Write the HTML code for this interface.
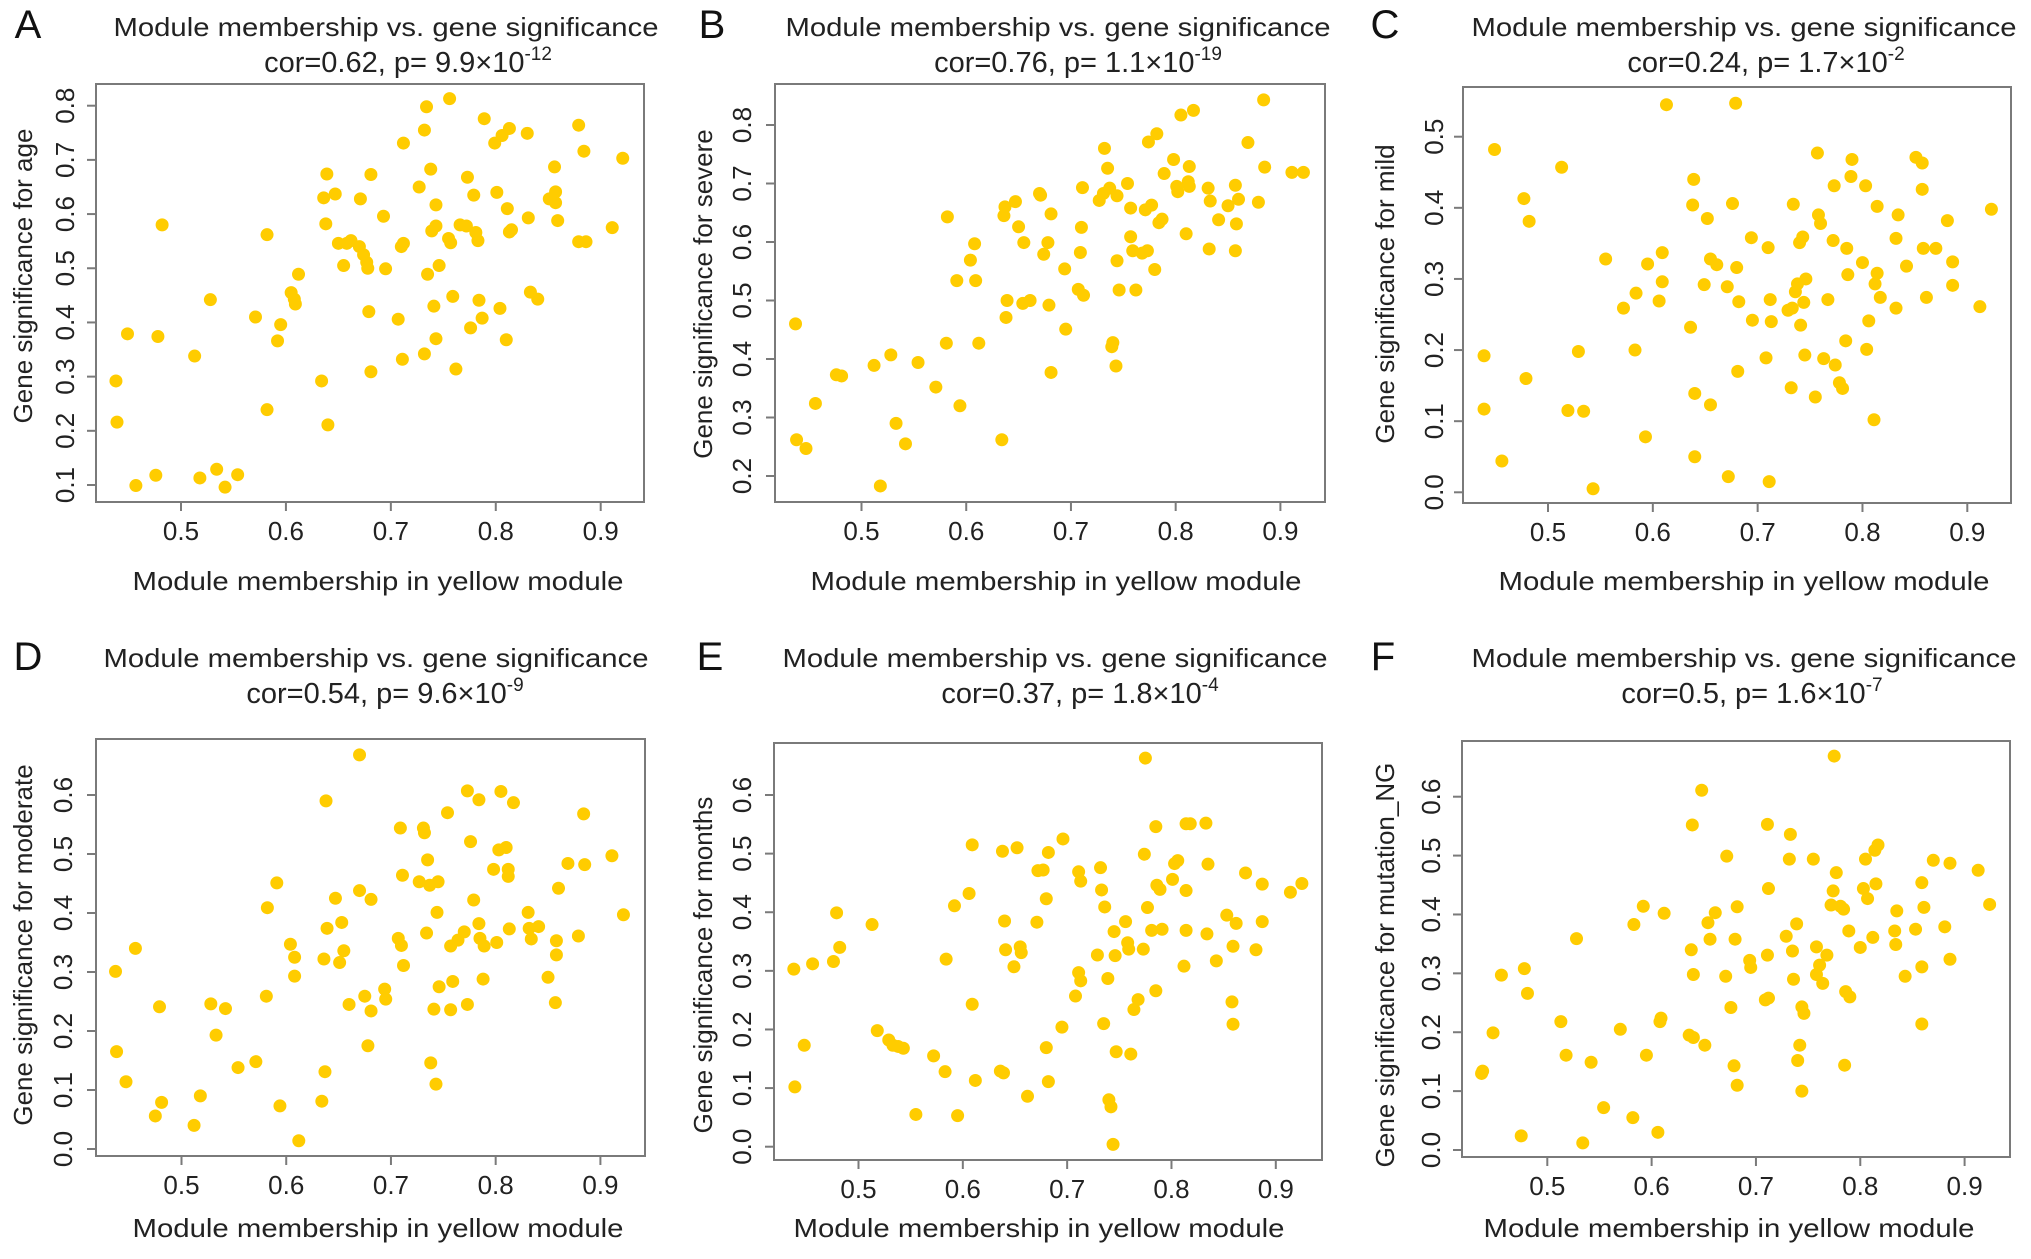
<!DOCTYPE html>
<html><head><meta charset="utf-8"><style>
body{margin:0;background:#fff}
svg{display:block;font-family:"Liberation Sans",Arial,sans-serif}
</style></head><body>
<svg id="fig" width="2031" height="1259" viewBox="0 0 2031 1259" xmlns="http://www.w3.org/2000/svg"></svg>
<script>
const xTicks=[0.5,0.6,0.7,0.8,0.9];
const ticksA=[0.1,0.2,0.3,0.4,0.5,0.6,0.7,0.8];
const ticksB=[0.2,0.3,0.4,0.5,0.6,0.7,0.8];
const ticksC=[0.0,0.1,0.2,0.3,0.4,0.5];
const ticksDEF=[0.0,0.1,0.2,0.3,0.4,0.5,0.6];
const labelsP=["A","B","C","D","E","F"];
const traits=["age","severe","mild","moderate","months","mutation_NG"];
const cors=["0.62","0.76","0.24","0.54","0.37","0.5"];
const pMant=["9.9","1.1","1.7","9.6","1.8","1.6"];
const pExp=["-12","-19","-2","-9","-4","-7"];
const xA=[0.438,0.439,0.449,0.457,0.476,0.478,0.482,0.513,0.518,0.528,0.534,0.542,0.554,0.571,0.582,0.582,0.592,0.595,0.605,0.608,0.609,0.612,0.634,0.636,0.638,0.639,0.640,0.647,0.650,0.655,0.658,0.662,0.670,0.671,0.674,0.677,0.678,0.679,0.681,0.681,0.693,0.695,0.707,0.710,0.712,0.711,0.712,0.727,0.732,0.732,0.734,0.735,0.738,0.739,0.741,0.743,0.743,0.743,0.746,0.755,0.757,0.756,0.759,0.762,0.766,0.772,0.773,0.776,0.779,0.781,0.783,0.784,0.787,0.789,0.799,0.801,0.804,0.806,0.810,0.811,0.813,0.815,0.813,0.830,0.831,0.833,0.840,0.851,0.856,0.857,0.857,0.859,0.879,0.879,0.884,0.886,0.911,0.921];
const yA=[0.292,0.216,0.379,0.099,0.118,0.374,0.580,0.338,0.113,0.442,0.129,0.096,0.119,0.410,0.562,0.239,0.366,0.396,0.455,0.443,0.434,0.489,0.292,0.630,0.582,0.674,0.211,0.637,0.546,0.505,0.546,0.551,0.540,0.628,0.525,0.511,0.500,0.420,0.673,0.309,0.596,0.499,0.406,0.540,0.731,0.332,0.546,0.650,0.342,0.755,0.798,0.489,0.683,0.569,0.430,0.578,0.617,0.370,0.505,0.555,0.547,0.813,0.448,0.314,0.580,0.578,0.668,0.390,0.635,0.566,0.551,0.441,0.408,0.776,0.731,0.640,0.426,0.745,0.368,0.610,0.758,0.571,0.567,0.749,0.593,0.456,0.443,0.628,0.687,0.641,0.621,0.588,0.764,0.549,0.716,0.549,0.575,0.703];
const xB=[0.437,0.438,0.447,0.456,0.476,0.481,0.512,0.518,0.528,0.533,0.542,0.554,0.571,0.581,0.582,0.591,0.594,0.604,0.608,0.609,0.612,0.634,0.636,0.637,0.638,0.639,0.647,0.650,0.654,0.655,0.661,0.670,0.671,0.674,0.678,0.679,0.681,0.681,0.694,0.695,0.707,0.709,0.710,0.711,0.712,0.727,0.731,0.732,0.735,0.737,0.739,0.740,0.743,0.744,0.744,0.746,0.754,0.757,0.757,0.759,0.762,0.768,0.771,0.773,0.774,0.777,0.780,0.782,0.784,0.787,0.789,0.798,0.801,0.802,0.805,0.810,0.812,0.813,0.813,0.817,0.831,0.832,0.833,0.841,0.850,0.857,0.858,0.857,0.860,0.869,0.879,0.884,0.885,0.911,0.922];
const yB=[0.460,0.262,0.247,0.324,0.373,0.371,0.389,0.183,0.407,0.290,0.255,0.394,0.352,0.427,0.643,0.534,0.320,0.569,0.597,0.534,0.427,0.262,0.645,0.660,0.471,0.500,0.669,0.626,0.495,0.599,0.500,0.683,0.680,0.579,0.599,0.492,0.377,0.648,0.554,0.451,0.519,0.582,0.625,0.693,0.509,0.671,0.683,0.760,0.726,0.692,0.421,0.428,0.388,0.679,0.568,0.518,0.700,0.658,0.609,0.585,0.518,0.581,0.655,0.585,0.771,0.663,0.553,0.785,0.633,0.639,0.717,0.741,0.695,0.686,0.817,0.614,0.703,0.695,0.729,0.825,0.692,0.588,0.670,0.638,0.662,0.697,0.631,0.585,0.673,0.770,0.668,0.843,0.728,0.719,0.719];
const xC=[0.439,0.439,0.449,0.456,0.477,0.479,0.482,0.513,0.519,0.529,0.534,0.543,0.555,0.572,0.584,0.583,0.593,0.595,0.606,0.609,0.609,0.613,0.636,0.638,0.639,0.640,0.640,0.649,0.652,0.655,0.655,0.661,0.671,0.672,0.676,0.679,0.680,0.681,0.682,0.694,0.695,0.708,0.710,0.711,0.712,0.713,0.729,0.732,0.733,0.734,0.736,0.738,0.740,0.741,0.743,0.744,0.745,0.746,0.755,0.757,0.758,0.760,0.763,0.767,0.772,0.773,0.774,0.778,0.781,0.784,0.785,0.786,0.789,0.790,0.800,0.803,0.804,0.806,0.811,0.812,0.814,0.814,0.817,0.832,0.832,0.834,0.842,0.851,0.857,0.857,0.858,0.861,0.870,0.881,0.886,0.886,0.912,0.923];
const yC=[0.192,0.117,0.482,0.044,0.413,0.160,0.381,0.457,0.115,0.198,0.114,0.005,0.328,0.259,0.280,0.200,0.078,0.321,0.269,0.337,0.296,0.545,0.232,0.404,0.440,0.139,0.050,0.292,0.385,0.123,0.328,0.320,0.289,0.022,0.406,0.547,0.316,0.170,0.268,0.358,0.242,0.189,0.344,0.015,0.271,0.240,0.256,0.147,0.259,0.405,0.282,0.293,0.351,0.235,0.359,0.267,0.193,0.300,0.134,0.477,0.390,0.378,0.188,0.271,0.354,0.431,0.179,0.154,0.146,0.213,0.343,0.306,0.444,0.468,0.323,0.431,0.201,0.241,0.102,0.293,0.308,0.402,0.274,0.259,0.357,0.390,0.318,0.471,0.463,0.426,0.343,0.274,0.343,0.382,0.324,0.291,0.261,0.398];
const xD=[0.437,0.438,0.447,0.456,0.475,0.479,0.481,0.512,0.518,0.528,0.533,0.542,0.554,0.571,0.581,0.582,0.591,0.594,0.604,0.608,0.608,0.612,0.634,0.636,0.637,0.638,0.639,0.647,0.651,0.653,0.655,0.660,0.670,0.670,0.675,0.678,0.681,0.681,0.694,0.695,0.707,0.709,0.710,0.711,0.712,0.727,0.731,0.732,0.734,0.735,0.737,0.738,0.741,0.743,0.744,0.745,0.746,0.754,0.757,0.757,0.759,0.764,0.770,0.773,0.773,0.776,0.779,0.784,0.784,0.785,0.788,0.789,0.798,0.801,0.803,0.805,0.810,0.812,0.812,0.813,0.817,0.831,0.832,0.834,0.841,0.850,0.857,0.858,0.858,0.860,0.869,0.879,0.884,0.885,0.911,0.922];
const yD=[0.301,0.165,0.114,0.340,0.056,0.241,0.079,0.040,0.090,0.246,0.193,0.238,0.138,0.148,0.259,0.409,0.451,0.073,0.347,0.325,0.293,0.014,0.081,0.322,0.131,0.590,0.374,0.425,0.316,0.384,0.336,0.245,0.668,0.438,0.259,0.175,0.423,0.234,0.271,0.254,0.357,0.544,0.345,0.464,0.311,0.453,0.544,0.536,0.366,0.490,0.447,0.146,0.237,0.110,0.401,0.453,0.275,0.570,0.344,0.236,0.284,0.354,0.368,0.245,0.607,0.521,0.422,0.592,0.382,0.357,0.288,0.344,0.474,0.350,0.507,0.606,0.511,0.474,0.462,0.373,0.587,0.401,0.374,0.356,0.377,0.291,0.248,0.353,0.329,0.442,0.484,0.361,0.568,0.482,0.497,0.397];
const xE=[0.438,0.439,0.448,0.456,0.476,0.479,0.482,0.513,0.518,0.529,0.533,0.538,0.543,0.555,0.572,0.583,0.584,0.592,0.595,0.606,0.609,0.609,0.612,0.636,0.638,0.639,0.640,0.641,0.649,0.652,0.655,0.656,0.662,0.671,0.672,0.677,0.680,0.680,0.682,0.682,0.695,0.696,0.708,0.711,0.711,0.713,0.713,0.729,0.732,0.733,0.735,0.736,0.739,0.740,0.742,0.744,0.745,0.746,0.747,0.756,0.758,0.759,0.761,0.764,0.768,0.773,0.774,0.775,0.777,0.781,0.785,0.785,0.786,0.789,0.791,0.801,0.803,0.806,0.812,0.814,0.814,0.814,0.818,0.833,0.834,0.835,0.843,0.853,0.858,0.859,0.859,0.862,0.871,0.881,0.887,0.887,0.914,0.925];
const yE=[0.303,0.102,0.173,0.312,0.316,0.399,0.340,0.379,0.198,0.182,0.173,0.171,0.168,0.055,0.155,0.128,0.320,0.411,0.053,0.432,0.243,0.515,0.113,0.129,0.504,0.126,0.385,0.336,0.307,0.510,0.341,0.331,0.086,0.383,0.471,0.472,0.169,0.423,0.111,0.502,0.204,0.525,0.257,0.469,0.297,0.283,0.453,0.327,0.476,0.438,0.210,0.409,0.287,0.080,0.068,0.004,0.367,0.326,0.162,0.384,0.348,0.337,0.158,0.234,0.251,0.337,0.499,0.663,0.408,0.369,0.546,0.266,0.446,0.439,0.371,0.456,0.483,0.488,0.308,0.551,0.437,0.369,0.551,0.552,0.363,0.482,0.317,0.395,0.247,0.209,0.342,0.381,0.467,0.336,0.448,0.384,0.434,0.449];
const xF=[0.437,0.438,0.448,0.456,0.475,0.478,0.481,0.513,0.518,0.528,0.534,0.542,0.554,0.570,0.582,0.583,0.592,0.595,0.606,0.608,0.609,0.612,0.636,0.638,0.639,0.640,0.640,0.648,0.651,0.654,0.656,0.661,0.671,0.672,0.676,0.679,0.680,0.682,0.682,0.694,0.695,0.709,0.711,0.711,0.712,0.712,0.729,0.732,0.733,0.735,0.736,0.739,0.740,0.742,0.744,0.744,0.746,0.755,0.758,0.758,0.761,0.764,0.768,0.772,0.774,0.775,0.777,0.781,0.784,0.785,0.786,0.789,0.790,0.800,0.803,0.805,0.807,0.812,0.814,0.815,0.817,0.833,0.834,0.835,0.843,0.853,0.859,0.859,0.859,0.861,0.870,0.881,0.886,0.886,0.913,0.924];
const yF=[0.130,0.134,0.199,0.297,0.024,0.308,0.266,0.218,0.161,0.359,0.012,0.149,0.072,0.205,0.055,0.383,0.414,0.161,0.030,0.218,0.224,0.402,0.195,0.340,0.552,0.191,0.298,0.611,0.178,0.386,0.358,0.403,0.295,0.499,0.242,0.143,0.358,0.110,0.413,0.322,0.310,0.255,0.553,0.331,0.258,0.444,0.363,0.494,0.536,0.338,0.290,0.384,0.152,0.178,0.100,0.243,0.232,0.494,0.345,0.298,0.314,0.283,0.331,0.416,0.440,0.669,0.471,0.414,0.409,0.144,0.269,0.372,0.260,0.344,0.444,0.494,0.427,0.361,0.509,0.452,0.518,0.372,0.349,0.406,0.295,0.375,0.454,0.311,0.214,0.412,0.492,0.379,0.487,0.324,0.475,0.417];

const panels=[
 {L:96,R:644,T:84,B:502,x0:181,x1:600.7,yv0:0.1,yv1:0.8,yp0:485,yp1:105.7,yt:ticksA,xs:xA,ys:yA,row:0,yl:23,ytl:65,ycy:276},
 {L:775,R:1325,T:84,B:502,x0:861.5,x1:1280.4,yv0:0.2,yv1:0.8,yp0:476,yp1:125,yt:ticksB,xs:xB,ys:yB,row:0,yl:703,ytl:742,ycy:294},
 {L:1463,R:2011,T:87,B:503,x0:1548,x1:1967.3,yv0:0,yv1:0.5,yp0:492.3,yp1:136.7,yt:ticksC,xs:xC,ys:yC,row:0,yl:1385,ytl:1434,ycy:294},
 {L:96,R:645,T:739,B:1156,x0:181.5,x1:600.4,yv0:0,yv1:0.6,yp0:1149,yp1:795,yt:ticksDEF,xs:xD,ys:yD,row:1,yl:23,ytl:63,ycy:945},
 {L:774,R:1322,T:743,B:1160,x0:858.5,x1:1275.8,yv0:0,yv1:0.6,yp0:1146.7,yp1:795,yt:ticksDEF,xs:xE,ys:yE,row:1,yl:703,ytl:742,ycy:965},
 {L:1462,R:2010,T:741,B:1157,x0:1547.3,x1:1964.6,yv0:0,yv1:0.6,yp0:1150,yp1:796.7,yt:ticksDEF,xs:xF,ys:yF,row:1,yl:1385,ytl:1431,ycy:965}
];
const letterPos=[[28,28],[712,28],[1385,28],[28,660],[710,660],[1383,660]];
const titleX=[386,1058,1744,376,1055,1744];
const subX=[408,1078,1766,385,1080,1752];
const xlabX=[378,1056,1744,378,1039,1729];
const NS="http://www.w3.org/2000/svg";
const svg=document.getElementById('fig');
function mk(tag,attrs,parent){const e=document.createElementNS(NS,tag);for(const k in attrs)e.setAttribute(k,attrs[k]);(parent||svg).appendChild(e);return e;}
panels.forEach((p,i)=>{
  const g=mk('g',{});
  
  
  const sx=v=>p.x0+(v-0.5)*(p.x1-p.x0)/0.4;
  const sy=v=>p.yp0+(v-p.yv0)*(p.yp1-p.yp0)/(p.yv1-p.yv0);
  const ty=p.row===0?0:631;
  const lt=mk('text',{x:letterPos[i][0],y:letterPos[i][1]+10,'font-size':40,'text-anchor':'middle',fill:'#111'},g);
  lt.textContent=labelsP[i];
  
  
  const t1=mk('text',{x:titleX[i],y:36+ty,'font-size':26,'text-anchor':'middle',fill:'#222',textLength:545,lengthAdjust:'spacingAndGlyphs'},g);
  t1.textContent='Module membership vs. gene significance';
  
  
  const t2=mk('text',{x:subX[i],y:72+ty,'font-size':29,'text-anchor':'middle',fill:'#222'},g);
  
  
  t2.innerHTML='cor='+cors[i]+', p= '+pMant[i]+'×10<tspan font-size="19" dy="-12">'+pExp[i]+'</tspan>';
  const fr=mk('rect',{x:p.L,y:p.T,width:p.R-p.L,height:p.B-p.T,fill:'none',stroke:'#7a7a7a','stroke-width':2},g);
  
  
  xTicks.forEach(v=>{
    const x=sx(v);
    const tk=mk('line',{x1:x,x2:x,y1:p.B,y2:p.B+9,stroke:'#7a7a7a','stroke-width':2},g);
    
    
    const tl=mk('text',{x:x,y:p.B+38,'font-size':26,'text-anchor':'middle',fill:'#222'},g);
    tl.textContent=v.toFixed(1);
    
    
  });
  p.yt.forEach(v=>{
    const y=sy(v);
    const tk=mk('line',{x1:p.L-9,x2:p.L,y1:y,y2:y,stroke:'#7a7a7a','stroke-width':2},g);
    
    
    const tl=mk('text',{x:p.ytl,y:y,'font-size':26,'text-anchor':'middle',fill:'#222',transform:'rotate(-90 '+(p.ytl)+' '+y+')',dy:'0.35em'},g);
    tl.textContent=v.toFixed(1);
    
    
  });
  const xl=mk('text',{x:xlabX[i],y:p.row===0?590:1237,'font-size':26,'text-anchor':'middle',fill:'#222',textLength:491,lengthAdjust:'spacingAndGlyphs'},g);
  xl.textContent='Module membership in yellow module';
  
  
  const yl=mk('text',{x:p.yl,y:p.ycy,'font-size':26,'text-anchor':'middle',fill:'#222',transform:'rotate(-90 '+p.yl+' '+p.ycy+')',dy:'0.35em'},g);
  yl.textContent='Gene significance for '+traits[i];
  
  
  p.xs.forEach((xv,j)=>{
    const c=mk('circle',{cx:sx(xv),cy:sy(p.ys[j]),r:6.5,fill:'#FFCC00'},g);
    
    
  });
});
</script>
</body></html>
